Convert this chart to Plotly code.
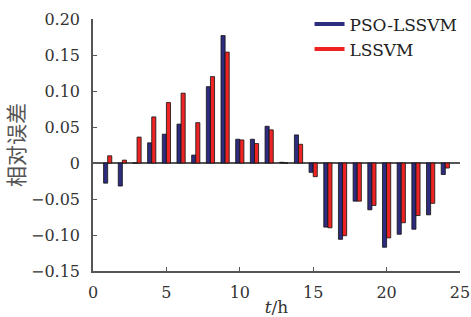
import plotly.graph_objects as go

hours = list(range(1, 25))
pso_lssvm = [-0.028, -0.032, 0.0, 0.028, 0.040, 0.054, 0.011, 0.106, 0.177, 0.033, 0.033, 0.051,
             0.001, 0.039, -0.013, -0.089, -0.106, -0.053, -0.065, -0.117, -0.099, -0.092, -0.072, -0.016]
lssvm = [0.010, 0.004, 0.036, 0.064, 0.084, 0.097, 0.056, 0.120, 0.154, 0.032, 0.027, 0.046,
         0.0, 0.026, -0.019, -0.090, -0.101, -0.053, -0.059, -0.104, -0.083, -0.073, -0.056, -0.007]
series_names = ["PSO-LSSVM", "LSSVM"]
colors = ["#2e2c7e", "#ee2424"]
x_ticks = [0, 5, 10, 15, 20, 25]
y_ticks = [-0.15, -0.10, -0.05, 0, 0.05, 0.10, 0.15, 0.20]
y_tick_text = ["\u22120.15", "\u22120.10", "\u22120.05", "0", "0.05", "0.10", "0.15", "0.20"]

fig = go.Figure()
for name, vals, col in zip(series_names, [pso_lssvm, lssvm], colors):
    fig.add_trace(go.Bar(x=hours, y=vals, name=name, showlegend=False,
                         marker=dict(color=col, line=dict(color="#111111", width=0.8))))
    fig.add_trace(go.Scatter(x=[None], y=[None], mode="lines", name=name,
                             line=dict(color=col, width=4)))

serif = "DejaVu Serif"
fig.update_layout(
    width=471, height=317,
    margin=dict(l=93, r=11, t=19, b=46, autoexpand=False),
    paper_bgcolor="white", plot_bgcolor="white",
    barmode="group", bargap=0.44, bargroupgap=0,
    font=dict(family=serif, size=16, color="#333333"),
    legend=dict(x=0.59, y=1.05, xanchor="left", yanchor="top",
                bgcolor="rgba(0,0,0,0)", font=dict(size=17, family=serif, color="#222222"),
                tracegroupgap=0, itemwidth=30),
    xaxis=dict(range=[0, 25], tickvals=x_ticks, ticks="inside", ticklen=4, automargin=False,
               showline=True, linecolor="#555555", linewidth=1.5, tickcolor="#555555",
               showgrid=False, zeroline=False, ticklabelstandoff=6,
               tickfont=dict(family=serif, size=16),
               title=dict(text="<i>t</i>/h", font=dict(size=17, family=serif), standoff=2)),
    yaxis=dict(range=[-0.15, 0.20], tickvals=y_ticks, ticktext=y_tick_text, ticks="inside", ticklen=4,
               automargin=False,
               showline=True, linecolor="#555555", linewidth=1.5, tickcolor="#555555",
               showgrid=False, zeroline=True, zerolinecolor="#555555", zerolinewidth=1.5,
               ticklabelstandoff=8, tickfont=dict(family=serif, size=16),
               title=dict(text="相对误差", font=dict(size=21, family="Noto Sans CJK SC", color="#555555"),
                          standoff=14)),
)

fig.write_html("out.html", config={"displayModeBar": False},
               post_script="document.body.style.margin='0';document.body.style.padding='0';")
